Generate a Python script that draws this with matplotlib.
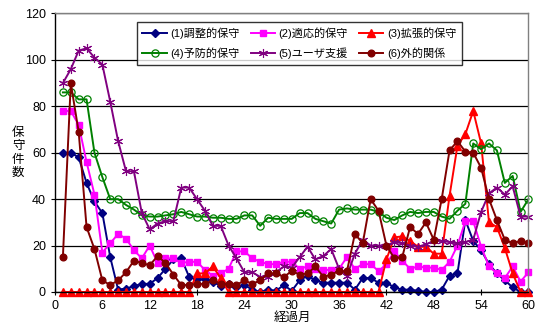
import matplotlib
matplotlib.use("Agg")
import matplotlib.pyplot as plt

plt.rcParams['font.family'] = ['Liberation Sans', 'Noto Sans CJK JP']

months = list(range(1, 61))

s1_adjust = [60, 60, 58, 47, 39, 34, 15, 1, 1.5, 2.5,
             3.5, 3.5, 6, 10, 14, 14.5, 6.5, 5.5, 5.5, 4.5,
             2.5, 3.5, 2, 3, 1, 0, 1, 0.5, 3, 0.5,
             5, 7, 5, 4, 4, 4, 4, 1, 6, 6,
             4, 4, 2, 1, 1, 0.5, 0, 0, 1, 7,
             8, 31, 22, 18, 12, 8, 5, 2, 0, 0]
s2_adapt = [78, 78, 72, 56, 42, 17, 21, 25, 23, 18,
            14.5, 20, 12.5, 14.5, 14.5, 12.5, 13, 13, 9.5, 7,
            8, 10, 17.5, 17.5, 14.5, 13, 12, 12, 13, 13,
            10, 11, 10, 9.5, 9.5, 10, 15, 10, 12, 12,
            9, 12, 17.5, 13.5, 10, 11, 10.5, 10.5, 9.5, 13,
            20, 30.5, 30.5, 19.5, 11, 8, 6, 11, 4.5, 8.5]
s3_extend = [0] * 17 + [8, 8, 11, 6] + [0] * 20 + \
            [14, 23.5, 24, 22, 19.5, 19.5, 16.5, 16.5, 41.5,
             63, 68, 78, 64, 30, 28, 19, 8, 0, 0]
s4_prevent = [86, 86, 83, 83, 60, 49.5, 40, 40, 37.5, 35.5,
              33, 32.5, 32.5, 33, 33.5, 34.5, 33.5, 32.5, 32.5, 32,
              32, 31.5, 31.5, 33, 33, 28.5, 32, 31.5, 31.5, 31.5,
              34, 34, 31.5, 30.5, 29.5, 35.5, 36, 35.5, 35.5, 35.5,
              34.5, 32, 31, 33, 34.5, 34, 34.5, 34.5, 32.5, 31.5,
              35, 38, 64, 61.5, 64, 61, 47, 50, 34.5, 40]
s5_support = [90, 96, 104, 105, 101, 98, 82, 65, 52, 52,
              34, 27, 29.5, 30.5, 30.5, 45, 45, 40, 35, 28.5,
              28.5, 20, 14.5, 8.5, 8.5, 6.5, 6.5, 8.5, 11, 10.5,
              15, 19.5, 14, 15.5, 18.5, 10, 7, 16.5, 22.5, 20,
              20, 20, 21.5, 21, 20, 19.5, 20.5, 22, 22, 21.5,
              21, 21.5, 22.5, 34.5, 42.5, 45, 42, 45.5, 32.5, 32.5]
s6_external = [15, 90, 69, 28, 18.5, 5, 3, 5, 8.5, 13.5,
               12.5, 11.5, 15.5, 12.5, 7.5, 3, 3, 3.5, 3.5, 5,
               3.5, 3.5, 3, 5, 3.5, 5, 8, 8, 6.5, 9,
               7.5, 8, 11, 6.5, 7.5, 9, 9, 25, 21, 40,
               35, 20, 14.5, 15, 28, 25, 30, 22.5, 40, 61,
               65, 60.5, 60, 53.5, 40, 31, 22.5, 21, 22, 21]

labels = ['(1)調整的保守', '(2)適応的保守', '(3)拡張的保守',
          '(4)予防的保守', '(5)ユーザ支援', '(6)外的関係']
x_ticks = [0, 6, 12, 18, 24, 30, 36, 42, 48, 54, 60]
y_ticks = [0, 20, 40, 60, 80, 100, 120]

fig = plt.figure(figsize=(5.35, 3.29), dpi=100)
ax = fig.add_axes([0.1028, 0.1125, 0.8850, 0.8465])

lw = 1.4
styles = [
    dict(color='#000080', marker='D', ms=3.6, mfc='#000080', mec='#000080'),
    dict(color='#FF00FF', marker='s', ms=4.8, mfc='#FF00FF', mec='#FF00FF'),
    dict(color='#FF0000', marker='^', ms=5.2, mfc='#FF0000', mec='#FF0000'),
    dict(color='#008000', marker='o', ms=5.2, mfc='none', mec='#008000', mew=0.9),
    dict(color='#800080', marker=(6, 2, 0), ms=6.5, mec='#800080', mew=0.8),
    dict(color='#800000', marker='o', ms=4.8, mfc='#800000', mec='#800000'),
]
series = [s1_adjust, s2_adapt, s3_extend, s4_prevent, s5_support, s6_external]

handles = []
for vals, st, lab in zip(series, styles, labels):
    h, = ax.plot(months, vals, lw=lw, label=lab, clip_on=False, **st)
    handles.append(h)

ax.set_xlim(0, 60)
ax.set_ylim(0, 120)
ax.set_xticks(x_ticks)
ax.set_yticks(y_ticks)
ax.yaxis.grid(True, color='black', lw=0.9)
ax.set_axisbelow(True)
ax.tick_params(axis='both', labelsize=9, length=3, width=0.8, color='black')
ax.tick_params(axis='x', direction='inout', length=5)

for side in ('top', 'right'):
    ax.spines[side].set_color('#808080')
    ax.spines[side].set_linewidth(1.0)
for side in ('left', 'bottom'):
    ax.spines[side].set_color('black')
    ax.spines[side].set_linewidth(1.0)

# legend laid out row by row: (1)(2)(3) on top, (4)(5)(6) below
order = [0, 3, 1, 4, 2, 5]
leg = ax.legend([handles[i] for i in order], [labels[i] for i in order],
                ncol=3, loc='upper left', bbox_to_anchor=(0.173, 0.971),
                fontsize=8, frameon=True, fancybox=False, handlelength=2.2,
                handletextpad=0.3, columnspacing=1.0, borderpad=0.5,
                labelspacing=0.8, borderaxespad=0)
leg.get_frame().set_edgecolor('black')
leg.get_frame().set_linewidth(1.0)

fig.text(0.034, 0.535, '保\n守\n件\n数', ha='center', va='center',
         fontsize=9, linespacing=1.15)
fig.text(0.546, 0.033, '経過月', ha='center', va='center', fontsize=9)

fig.savefig('out.png', dpi=100)
